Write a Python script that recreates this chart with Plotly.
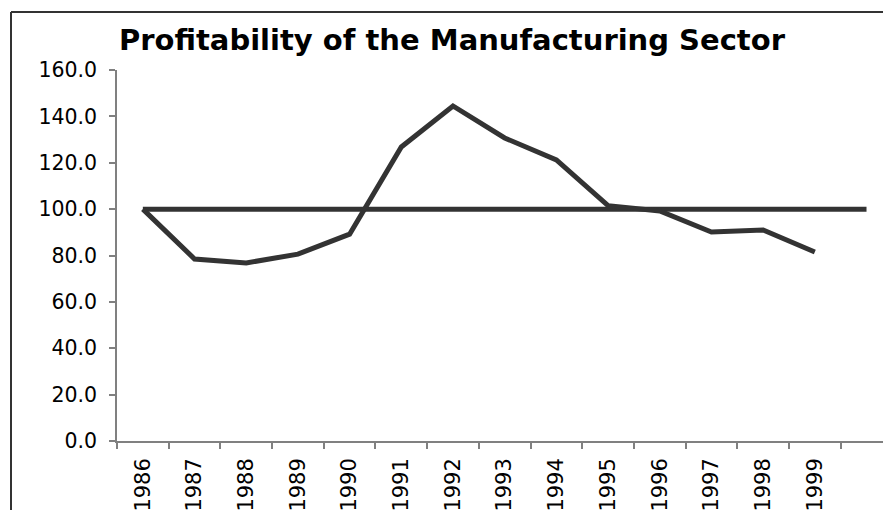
import plotly.graph_objects as go

years = [1986, 1987, 1988, 1989, 1990, 1991, 1992, 1993, 1994, 1995, 1996, 1997, 1998, 1999, 2000]
year_labels = ["1986", "1987", "1988", "1989", "1990", "1991", "1992", "1993", "1994", "1995",
               "1996", "1997", "1998", "1999", ""]
profitability = [100.0, 78.5, 76.8, 80.6, 89.2, 126.8, 144.5, 130.7, 121.2, 101.5, 99.2, 90.1, 91.0, 81.5]
benchmark = [100.0] * 15
y_ticks = [0, 20, 40, 60, 80, 100, 120, 140, 160]

LINE = "#333333"
AXIS = "#808080"
FONT = "DejaVu Sans, Liberation Sans, Arial, sans-serif"

fig = go.Figure()
fig.add_trace(go.Scatter(x=years, y=benchmark, mode="lines",
                         line=dict(color=LINE, width=5), hoverinfo="skip"))
fig.add_trace(go.Scatter(x=years[:len(profitability)], y=profitability, mode="lines",
                         line=dict(color=LINE, width=5), hoverinfo="skip"))

W, H = 883, 510
L, R, T, B = 117, 0, 70, 69
pw, ph = W - L - R, H - T - B
bounds = [y - 0.5 for y in years]

fig.update_layout(
    width=W, height=H,
    margin=dict(l=L, r=R, t=T, b=B, pad=0),
    paper_bgcolor="white", plot_bgcolor="white",
    showlegend=False,
    font=dict(family=FONT, color="black"),
    title=dict(text="Profitability of the Manufacturing Sector",
               font=dict(family=FONT, size=29, color="black", weight="bold"),
               xref="container", x=452 / W, xanchor="center",
               yref="container", y=1 - 40 / H, yanchor="middle"),
    xaxis=dict(
        range=[years[0] - 0.5, years[0] - 0.5 + pw / 51.69],
        tickmode="array", tickvals=years, ticktext=year_labels,
        ticks="", tickangle=-90, tickfont=dict(size=21, family=FONT, color="black"),
        showline=True, linecolor=AXIS, linewidth=1.5, showgrid=False, zeroline=False,
        ticklabelstandoff=7, automargin=False,
        minor=dict(tickmode="array", tickvals=bounds, ticks="outside", ticklen=6,
                   tickcolor=AXIS, tickwidth=1.5, showgrid=False),
    ),
    yaxis=dict(
        range=[0, 160], tickmode="array", tickvals=y_ticks, tickformat=".1f",
        ticks="outside", ticklen=6, tickcolor=AXIS, tickwidth=1.5,
        tickfont=dict(size=20.5, family=FONT, color="black"),
        showline=True, linecolor=AXIS, linewidth=1.5, showgrid=False, zeroline=False,
        ticklabelstandoff=8, automargin=False,
    ),
)

# outer chart-area frame (left and top edges; right and bottom lie outside the picture)
fx = (11 - L) / pw
fy = 1 + (T - 12) / ph
fig.add_shape(type="line", xref="paper", yref="paper", x0=fx, x1=fx, y0=fy, y1=-0.5,
              line=dict(color="#333333", width=2))
fig.add_shape(type="line", xref="paper", yref="paper", x0=fx, x1=1.2, y0=fy, y1=fy,
              line=dict(color="#333333", width=2))

fig.write_html("out.html", config={"displayModeBar": False},
               post_script="document.body.style.margin='0';")
